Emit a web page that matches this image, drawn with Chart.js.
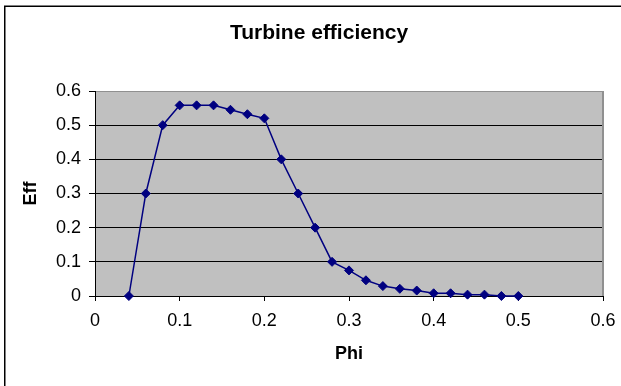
<!DOCTYPE html>
<html>
<head>
<meta charset="utf-8">
<script src="https://cdn.jsdelivr.net/npm/chart.js@4/dist/chart.umd.min.js"></script>
<style>
  html, body { margin: 0; padding: 0; background: #fff; }
  #wrap { width: 621px; height: 386px; position: relative; }
</style>
</head>
<body>
<div id="wrap"><canvas id="c" width="621" height="386"></canvas></div>
<script>
const chartTitle = "Turbine efficiency";
const xTitle = "Phi";
const yTitle = "Eff";
const phi = [0.04, 0.06, 0.08, 0.10, 0.12, 0.14, 0.16, 0.18, 0.20, 0.22, 0.24, 0.26,
             0.28, 0.30, 0.32, 0.34, 0.36, 0.38, 0.40, 0.42, 0.44, 0.46, 0.48, 0.50];
const eff = [0.0, 0.30, 0.50, 0.558, 0.558, 0.558, 0.545, 0.532, 0.52, 0.40, 0.30, 0.20,
             0.10, 0.075, 0.046, 0.029, 0.021, 0.016, 0.008, 0.008, 0.004, 0.004, 0.0, 0.0];
const xTicks = [0, 0.1, 0.2, 0.3, 0.4, 0.5, 0.6];
const yTicks = [0, 0.1, 0.2, 0.3, 0.4, 0.5, 0.6];

const points = phi.map((p, i) => ({ x: p, y: eff[i] }));
const FONT = "'Liberation Sans', Arial, sans-serif";

const decor = {
  id: 'decor',
  beforeDraw(chart) {
    const ctx = chart.ctx;
    const a = chart.chartArea;
    ctx.save();
    ctx.fillStyle = '#ffffff';
    ctx.fillRect(0, 0, chart.width, chart.height);
    ctx.strokeStyle = '#000000';
    ctx.lineWidth = 1.5;
    ctx.beginPath();
    ctx.moveTo(4.75, chart.height + 5);
    ctx.lineTo(4.75, 6.25);
    ctx.lineTo(chart.width + 5, 6.25);
    ctx.stroke();
    ctx.fillStyle = '#C0C0C0';
    ctx.fillRect(a.left, a.top, a.right - a.left, a.bottom - a.top);
    ctx.restore();
  },
  beforeDatasetsDraw(chart) {
    const ctx = chart.ctx;
    const a = chart.chartArea;
    ctx.save();
    ctx.strokeStyle = '#909090';
    ctx.lineWidth = 2;
    ctx.beginPath();
    ctx.moveTo(a.right, a.top);
    ctx.lineTo(a.right, a.bottom);
    ctx.stroke();
    ctx.restore();
  },
  afterDraw(chart) {
    const ctx = chart.ctx;
    ctx.save();
    ctx.fillStyle = '#000';
    ctx.font = "bold 21px " + FONT;
    ctx.textAlign = 'center';
    ctx.textBaseline = 'middle';
    ctx.fillText(chartTitle, 319, 33);
    ctx.restore();
  }
};

new Chart(document.getElementById('c'), {
  type: 'line',
  data: {
    datasets: [{
      data: points,
      borderColor: '#000080',
      backgroundColor: '#000080',
      borderWidth: 1.5,
      pointStyle: 'rectRot',
      pointRadius: 4.5,
      pointBorderWidth: 1,
      pointBackgroundColor: '#000080',
      pointBorderColor: '#000080',
      tension: 0,
      clip: false
    }]
  },
  options: {
    responsive: false,
    animation: false,
    devicePixelRatio: 1,
    layout: { padding: { left: 0, right: 18, top: 91, bottom: 0 } },
    plugins: {
      legend: { display: false },
      tooltip: { enabled: false },
      title: { display: false }
    },
    scales: {
      x: {
        type: 'linear',
        min: 0, max: 0.6,
        afterBuildTicks(scale) { scale.ticks = xTicks.map(v => ({ value: v })); },
        afterFit(scale) { scale.height = 90; scale.paddingLeft = 0; scale.paddingRight = 0; },
        ticks: {
          color: '#000',
          font: { family: FONT, size: 18 },
          padding: 9,
          maxRotation: 0,
          callback: v => String(+v.toFixed(1))
        },
        grid: {
          drawOnChartArea: false,
          drawTicks: true,
          tickLength: 5,
          tickColor: '#000',
          color: '#000'
        },
        border: { display: true, color: '#000', width: 1 },
        title: {
          display: true,
          text: xTitle,
          color: '#000',
          font: { family: FONT, size: 18, weight: 'bold', lineHeight: 1.2 },
          padding: { top: 0, bottom: 21 }
        }
      },
      y: {
        type: 'linear',
        min: 0, max: 0.6,
        afterBuildTicks(scale) { scale.ticks = yTicks.map(v => ({ value: v })); },
        afterFit(scale) { scale.width = 95; scale.paddingTop = 0; scale.paddingBottom = 0; },
        ticks: {
          color: '#000',
          font: { family: FONT, size: 18 },
          padding: 8,
          callback: v => String(+v.toFixed(1))
        },
        grid: {
          drawOnChartArea: true,
          drawTicks: true,
          tickLength: 6,
          tickColor: '#000',
          lineWidth: 1,
          color: ctx => (ctx.tick && ctx.tick.value >= 0.59) ? '#909090' : '#000'
        },
        border: { display: true, color: '#000', width: 1 },
        title: {
          display: true,
          text: yTitle,
          color: '#000',
          font: { family: FONT, size: 18, weight: 'bold', lineHeight: 1.2 },
          padding: { top: 20, bottom: 0 }
        }
      }
    }
  },
  plugins: [decor]
});
</script>
</body>
</html>
